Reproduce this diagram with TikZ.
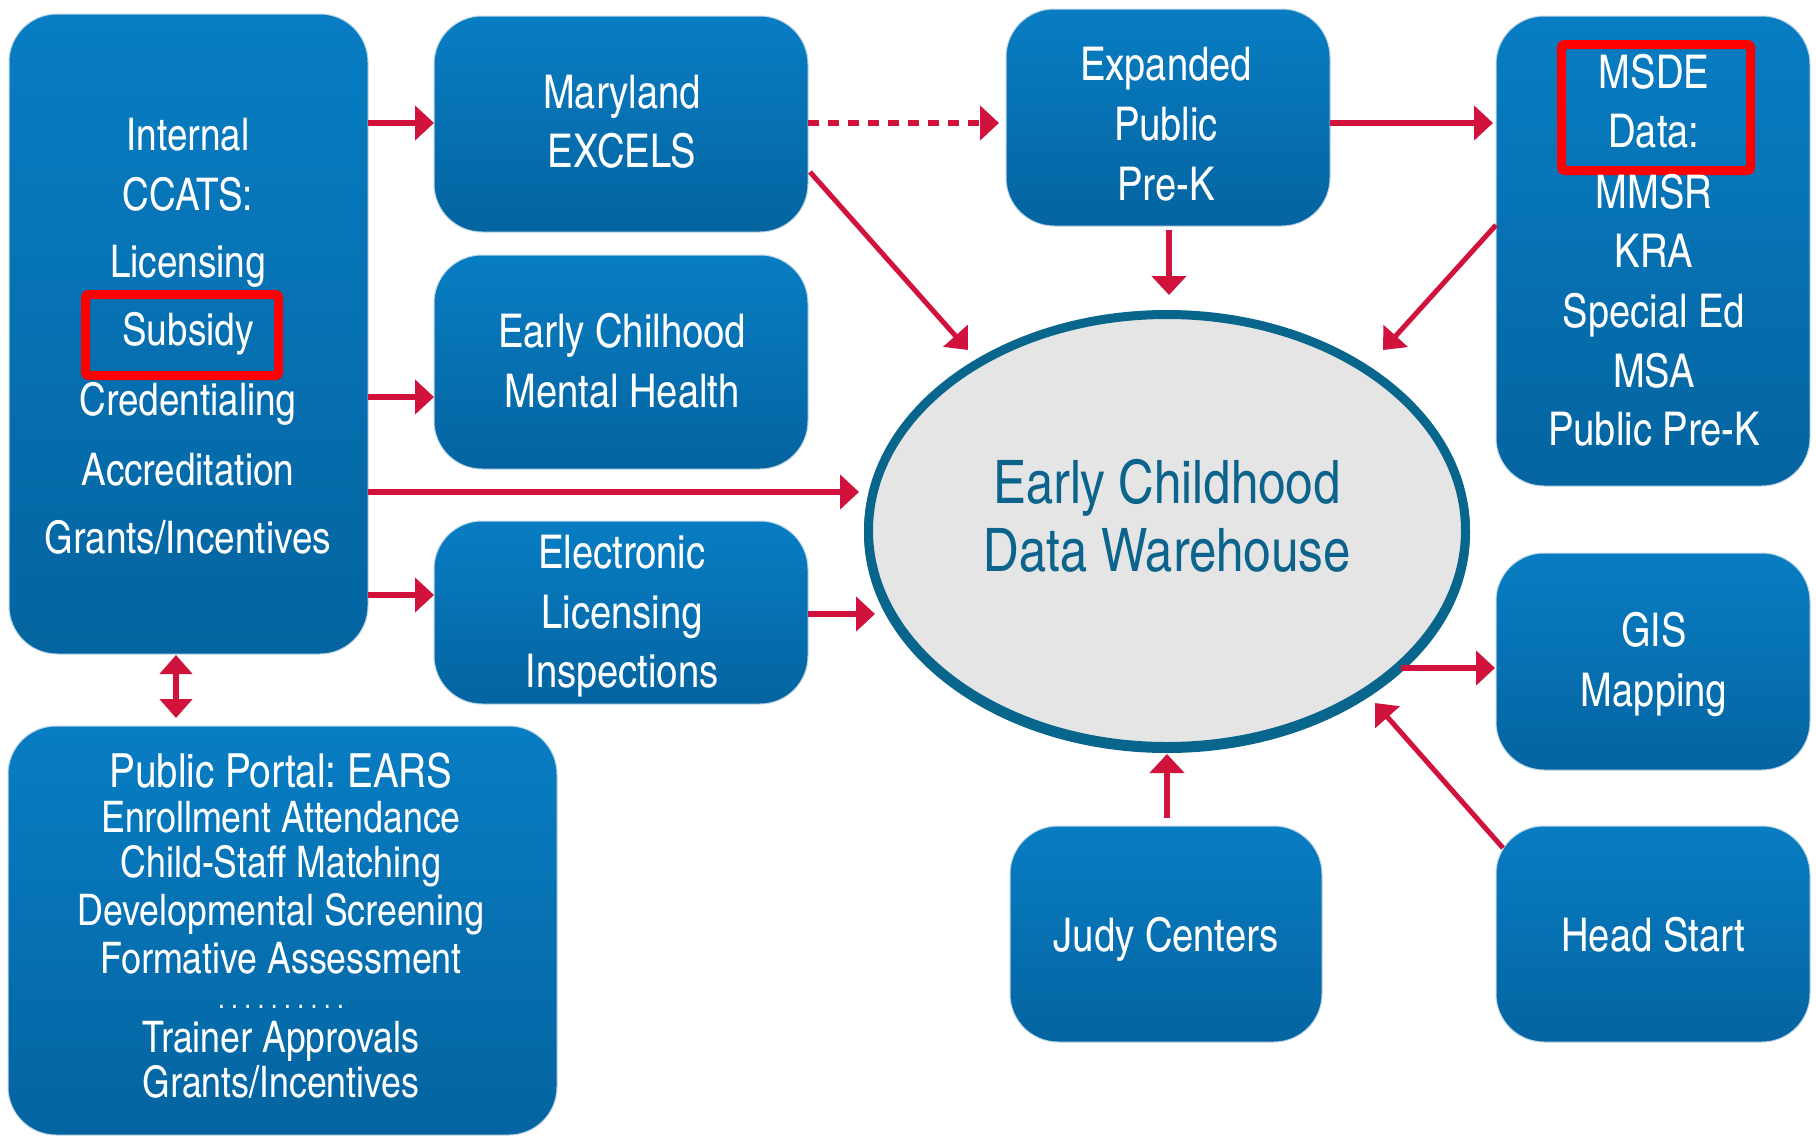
\documentclass[tikz,border=0pt]{standalone}
\usepackage{fontspec}
\setmainfont{texgyreheroscn-regular.otf}
\usetikzlibrary{arrows.meta,shapes.geometric,calc}
\frenchspacing
\definecolor{boxtop}{RGB}{8,125,195}
\definecolor{boxbot}{RGB}{4,100,160}
\definecolor{boxedge}{RGB}{190,214,232}
\definecolor{arrred}{RGB}{208,18,60}
\definecolor{ellborder}{RGB}{8,102,140}
\definecolor{elltext}{RGB}{12,100,140}
\definecolor{ellfill}{RGB}{229,229,229}
\definecolor{hired}{RGB}{255,0,0}
\tikzset{
  box/.style={rounded corners=48pt, top color=boxtop, bottom color=boxbot, draw=boxedge, line width=1pt, inner sep=0pt, outer sep=0pt},
  txt/.style={text=white, anchor=base, inner sep=0pt, font=\fontsize{46.5}{54}\selectfont},
  ctxt/.style={txt, font=\fontsize{45}{54}\selectfont},
  ptxt/.style={txt, font=\fontsize{43.5}{50}\selectfont},
  ttxt/.style={txt, font=\fontsize{47}{54}\selectfont},
  dtxt/.style={txt, font=\fontsize{30}{34}\selectfont},
  etxt/.style={text=elltext, anchor=base, inner sep=0pt, font=\fontsize{60}{68}\selectfont},
  hibox/.style={draw=hired, line width=9pt, rounded corners=3pt, inner sep=0pt},
  arr/.style={draw=arrred, line width=6pt, -{Triangle[length=19pt,width=34pt]}},
  darr/.style={draw=arrred, line width=6pt, {Triangle[length=19pt,width=32pt]}-{Triangle[length=19pt,width=32pt]}},
  thinarr/.style={draw=arrred, line width=5pt, -{Triangle[length=19pt,width=32pt]}},
}
\begin{document}
\begin{tikzpicture}[x=1pt,y=-1pt]
\useasboundingbox (0,0) rectangle (1816,1138);
\fill[white] (0,0) rectangle (1816,1138);
% boxes
\node[box, minimum width=359pt, minimum height=640pt] (ccats) at (188.5,334) {};
\node[box, minimum width=374pt, minimum height=216pt] (excels) at (621,124) {};
\node[box, minimum width=374pt, minimum height=214pt] (mental) at (621,362) {};
\node[box, minimum width=374pt, minimum height=183pt] (elec) at (621,612.5) {};
\node[box, minimum width=324pt, minimum height=217pt] (expanded) at (1168,117.5) {};
\node[box, minimum width=314pt, minimum height=470pt] (msde) at (1653,251) {};
\node[box, minimum width=314pt, minimum height=217pt] (gis) at (1653,661.5) {};
\node[box, minimum width=312pt, minimum height=216pt] (judy) at (1166,934) {};
\node[box, minimum width=314pt, minimum height=216pt] (head) at (1653,934) {};
\node[box, minimum width=549pt, minimum height=409pt] (portal) at (282.5,930.5) {};
% warehouse
\node[ellipse, fill=ellborder, minimum width=606pt, minimum height=440pt, inner sep=0pt] (dwrim) at (1167,533) {};
\node[ellipse, draw=ellborder, fill=ellfill, line width=9pt, minimum width=597pt, minimum height=432pt, inner sep=0pt] (dw) at (1167,530.5) {};
\node[etxt] (dw1) at (1167,503) {Early Childhood};
\node[etxt] (dw2) at (1167,571) {Data Warehouse};
% highlight frames
\node[hibox, minimum width=193pt, minimum height=81pt] (hisub) at (182,335) {};
\node[hibox, minimum width=189pt, minimum height=126pt] (himsde) at (1656,107.5) {};
% texts: CCATS
\node[ctxt] (c1) at (188,150) {Internal};
\node[ctxt] (c2) at (188,210) {CCATS:};
\node[ctxt] (c3) at (188,277) {Licensing};
\node[ctxt] (c4) at (188,345) {Subsidy};
\node[ctxt] (c5) at (188,415) {Credentialing};
\node[ctxt] (c6) at (188,485) {Accreditation};
\node[ctxt] (c7) at (188,553) {Grants/Incentives};
% EXCELS
\node[txt] (e1) at (622,108) {Maryland};
\node[txt] (e2) at (622,167) {EXCELS};
% mental
\node[txt] (m1) at (622,347) {Early Chilhood};
\node[txt] (m2) at (622,407) {Mental Health};
% electronic
\node[txt] (l1) at (622,568) {Electronic};
\node[txt] (l2) at (622,628) {Licensing};
\node[txt] (l3) at (622,687) {Inspections};
% expanded
\node[txt] (x1) at (1166,80) {Expanded};
\node[txt] (x2) at (1166,140) {Public};
\node[txt] (x3) at (1166,200) {Pre-K};
% msde
\node[txt] (s1) at (1654,88) {MSDE};
\node[txt] (s2) at (1654,147) {Data:};
\node[txt] (s3) at (1654,208) {MMSR};
\node[txt] (s4) at (1654,267) {KRA};
\node[txt] (s5) at (1654,327) {Special Ed};
\node[txt] (s6) at (1654,387) {MSA};
\node[txt] (s7) at (1654,445) {Public Pre-K};
% gis, judy, head
\node[txt] (g1) at (1654,646) {GIS};
\node[txt] (g2) at (1654,706) {Mapping};
\node[txt] (j1) at (1166,951) {Judy Centers};
\node[txt] (h1) at (1653,951) {Head Start};
% portal
\node[ttxt] (p1) at (281,787) {Public Portal: EARS};
\node[ptxt] (p2) at (281,832) {Enrollment Attendance};
\node[ptxt] (p3) at (281,877) {Child-Staff Matching};
\node[ptxt] (p4) at (281,925) {Developmental Screening};
\node[ptxt] (p5) at (281,973) {Formative Assessment};
\node[dtxt] (p6) at (281,1008) {.\kern6.4pt.\kern6.4pt.\kern6.4pt.\kern6.4pt.\kern6.4pt.\kern6.4pt.\kern6.4pt.\kern6.4pt.\kern6.4pt.};
\node[ptxt] (p7) at (281,1052) {Trainer Approvals};
\node[ptxt] (p8) at (281,1097) {Grants/Incentives};
% arrow end coordinates
\coordinate (t3) at (859,492);
\coordinate (t5) at (875,614);
\coordinate (t6) at (999,123);
\coordinate (s7a) at (810,172);
\coordinate (t7) at (968,350);
\coordinate (t8) at (1169,295);
\coordinate (s8) at ($(expanded.south -| t8)+(0,4)$);
\coordinate (t9) at (1493,123);
\coordinate (t10) at (1383,350);
\coordinate (s11) at (1401,668);
\coordinate (t11) at (1495,668);
\coordinate (t12) at (1167,754);
\coordinate (s12) at ($(judy.north -| t12)+(0,-8)$);
\coordinate (s13) at (1503,848);
\coordinate (t13) at (1375,703);
\coordinate (d1) at ($(ccats.south -| 176,0)+(0,1)$);
\coordinate (d2) at ($(portal.north -| 176,0)+(0,-8)$);
% arrows
\draw[arr] (ccats.east |- 0,123) -- (excels.west |- 0,123);
\draw[arr] (ccats.east |- 0,397) -- (mental.west |- 0,397);
\draw[arr] (ccats.east |- 0,492) -- (t3);
\draw[arr] (ccats.east |- 0,595) -- (elec.west |- 0,595);
\draw[arr] (elec.east |- t5) -- (t5);
\draw[arr, dash pattern=on 11pt off 9pt] (excels.east |- t6) -- (t6);
\draw[thinarr] (s7a) -- (t7);
\draw[arr] (s8) -- (t8);
\draw[arr] (expanded.east |- t9) -- (t9);
\draw[thinarr] (msde.west |- 0,225) -- (t10);
\draw[arr] (s11) -- (t11);
\draw[arr] (s12) -- (t12);
\draw[thinarr] (s13) -- (t13);
\draw[darr] (d1) -- (d2);
\end{tikzpicture}
\end{document}
